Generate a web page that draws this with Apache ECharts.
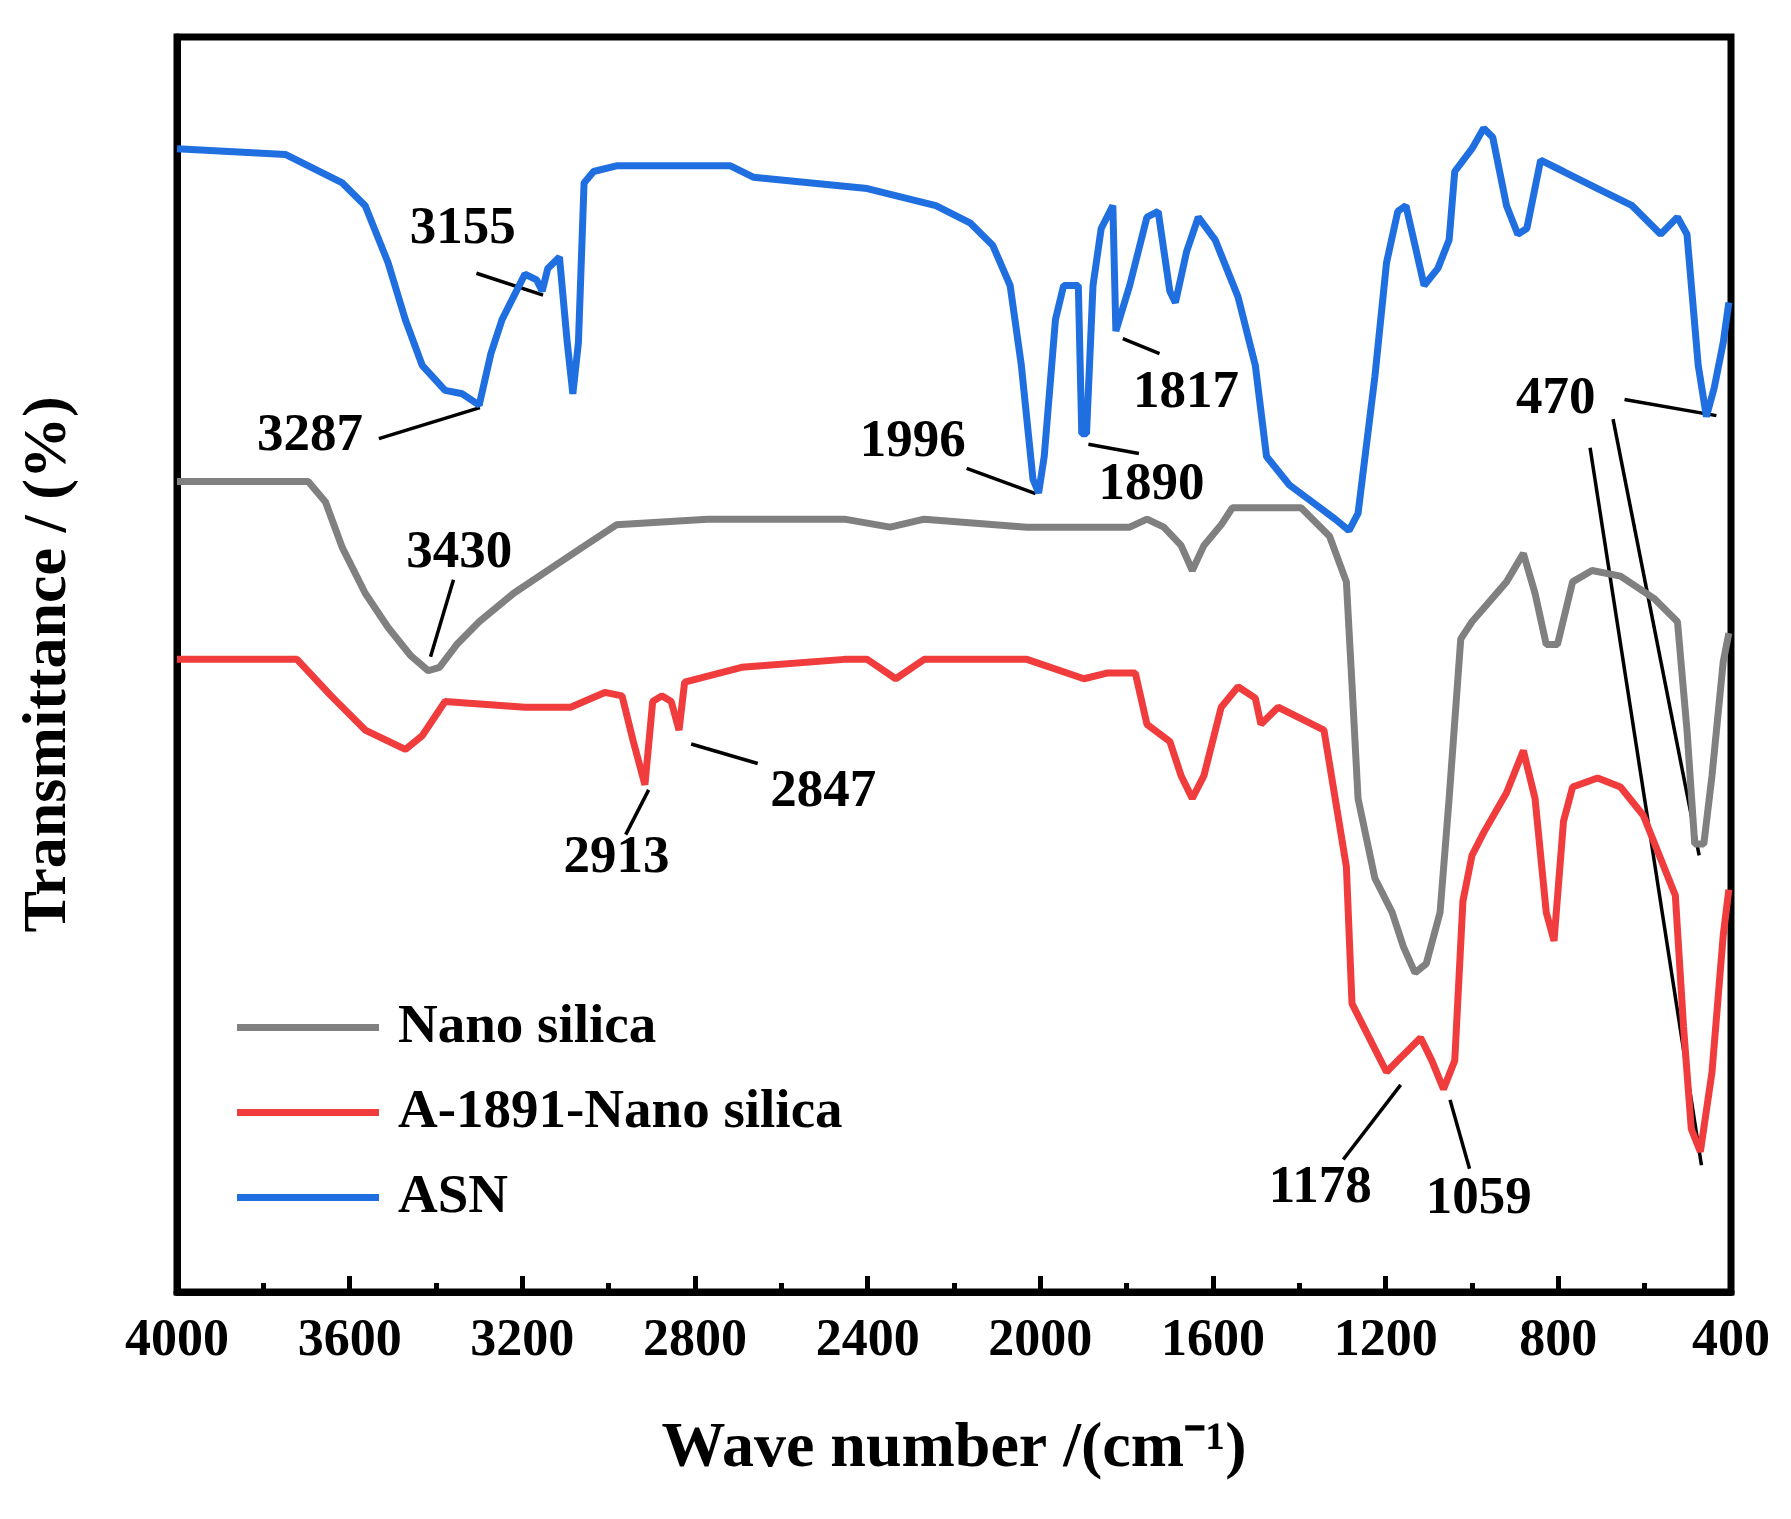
<!DOCTYPE html>
<html>
<head>
<meta charset="utf-8">
<script src="https://cdn.jsdelivr.net/npm/echarts@6/dist/echarts.min.js"></script>
<style>html,body{margin:0;padding:0;background:#fff}#chart{width:1791px;height:1519px}</style>
</head>
<body>
<div id="chart"></div>
<script>
// wave numbers (cm-1) and transmittance readings (arbitrary units, offset curves, larger = lower)
var asnX = [4000,3749,3617,3564,3511,3471,3432,3379,3339,3300,3273,3247,3194,3167,3154,3141,3114,3096,3083,3070,3057,3035,2982,2718,2665,2401,2242,2163,2110,2070,2044,2017,2004,1991,1965,1946,1912,1904,1893,1878,1859,1832,1825,1793,1753,1727,1700,1687,1661,1634,1595,1542,1502,1476,1423,1370,1317,1285,1264,1225,1198,1172,1153,1132,1111,1079,1053,1040,1000,973,952,920,894,873,841,788,709,629,563,524,502,476,457,439,418,405];
var asnY = [130,135,160,180,230,280,320,342,345,355,310,280,240,245,255,235,225,300,345,300,160,150,145,145,155,165,180,195,215,250,320,420,432,400,280,250,250,380,380,250,200,180,290,250,190,185,255,265,220,190,210,260,320,400,425,440,455,465,450,330,230,185,180,215,250,235,210,150,130,112,120,180,205,200,140,150,165,180,205,190,205,320,365,340,300,265];

var nanoX = [4000,3696,3656,3617,3564,3511,3458,3418,3392,3352,3300,3220,3141,3062,2982,2771,2454,2348,2269,2031,1793,1753,1714,1674,1648,1621,1581,1555,1396,1330,1291,1278,1264,1225,1185,1159,1132,1106,1074,1053,1026,1000,920,881,854,828,802,767,722,656,577,524,502,484,463,444,418,405];
var nanoY = [422,422,440,480,520,550,575,588,585,565,545,520,500,480,460,455,455,462,455,462,462,455,462,478,500,478,460,445,445,470,510,600,700,770,800,830,853,845,800,700,560,545,510,485,520,565,565,510,500,505,525,545,640,740,740,680,580,555];

var modX = [4000,3722,3643,3564,3471,3432,3379,3194,3088,3009,2969,2943,2916,2898,2877,2855,2837,2824,2692,2454,2401,2335,2269,2031,1899,1846,1780,1753,1700,1674,1648,1621,1581,1542,1502,1489,1449,1396,1343,1317,1291,1278,1238,1198,1159,1119,1093,1066,1040,1021,1000,973,920,881,854,828,810,788,767,709,656,603,529,510,492,471,444,418,405];
var modY = [578,578,610,640,657,645,615,620,620,607,610,650,688,615,610,615,640,598,585,578,578,595,578,578,595,590,590,635,650,680,700,680,620,602,612,635,620,630,640,700,760,880,910,940,925,910,930,955,930,790,750,730,695,658,700,800,825,720,690,682,690,715,785,900,990,1010,940,820,780];

var xTicks = [4000,3600,3200,2800,2400,2000,1600,1200,800,400];

// annotations: [text, textX, textY, [x1,y1,x2,y2], ...] in picture pixels
var notes = [
  ['3155',403,200,[[415,238,473,257]]],
  ['3287',270,380,[[330,382,418,355]]],
  ['1996',795,385,[[842,408,902,430]]],
  ['1890',1003,423,[[948,387,992,395]]],
  ['1817',1033,343,[[978,295,1010,308]]],
  ['470',1355,348,[[1415,348,1495,362],[1405,365,1480,745],[1385,390,1482,1015]]],
  ['3430',400,482,[[395,505,375,572]]],
  ['2913',537,748,[[545,727,565,688]]],
  ['2847',717,690,[[602,648,660,665]]],
  ['1178',1150,1035,[[1170,1010,1220,945]]],
  ['1059',1288,1045,[[1280,1018,1263,958]]]
];
var k = 1791 / 1560;

function pairs(xs, ys) {
  return xs.map(function (x, i) { return [x, ys[i]]; });
}

var graphics = [];
notes.forEach(function (n) {
  graphics.push({
    type: 'text', x: n[1] * k, y: n[2] * k,
    style: {text: n[0], font: 'bold 53px "Liberation Serif"', fill: '#000', textAlign: 'center', textVerticalAlign: 'middle'}
  });
  n[3].forEach(function (l) {
    graphics.push({
      type: 'line', shape: {x1: l[0] * k, y1: l[1] * k, x2: l[2] * k, y2: l[3] * k},
      style: {stroke: '#000', lineWidth: 3.5}
    });
  });
});

var myChart = echarts.init(document.getElementById('chart'));
var font = '"Liberation Serif", "Times New Roman", serif';

option = {
  backgroundColor: '#fff',
  animation: false,
  grid: {left: 177, right: 60, top: 37, bottom: 227, show: true, borderColor: '#000', borderWidth: 7},
  legend: {
    orient: 'vertical', left: 232, top: 995, itemWidth: 142, itemHeight: 7, itemGap: 30,
    icon: 'rect',
    textStyle: {fontFamily: font, fontWeight: 'bold', fontSize: 55, color: '#000', padding: [0, 0, 0, 14]},
    data: ['Nano silica', 'A-1891-Nano silica', 'ASN']
  },
  xAxis: {
    type: 'value', inverse: true, min: 400, max: 4000, interval: 400,
    name: 'Wave number /(cm\u207B\u00B9)', nameLocation: 'middle', nameGap: 125,
    nameTextStyle: {fontFamily: font, fontWeight: 'bold', fontSize: 64, color: '#000'},
    axisLine: {lineStyle: {color: '#000', width: 7}},
    axisTick: {inside: true, length: 16, lineStyle: {width: 5, color: '#000'}},
    minorTick: {show: true, splitNumber: 2, length: 9, lineStyle: {width: 5, color: '#000'}},
    splitLine: {show: false},
    axisLabel: {fontFamily: font, fontWeight: 'bold', fontSize: 52, color: '#000', margin: 24,
      formatter: function (v) { return xTicks.indexOf(v) >= 0 ? String(v) : ''; }}
  },
  yAxis: {
    type: 'value', inverse: true, min: 32, max: 1133,
    name: 'Transmittance / (%)', nameLocation: 'middle', nameGap: 97,
    nameTextStyle: {fontFamily: font, fontWeight: 'bold', fontSize: 62, color: '#000'},
    axisLine: {show: true, lineStyle: {color: '#000', width: 7}},
    axisTick: {show: false}, axisLabel: {show: false}, splitLine: {show: false}
  },
  series: [
    {name: 'Nano silica', type: 'line', data: pairs(nanoX, nanoY), showSymbol: false, z: 3,
      color: '#808080', lineStyle: {width: 7, color: '#808080'}},
    {name: 'A-1891-Nano silica', type: 'line', data: pairs(modX, modY), showSymbol: false, z: 4,
      color: '#f03c3c', lineStyle: {width: 7, color: '#f03c3c'}},
    {name: 'ASN', type: 'line', data: pairs(asnX, asnY), showSymbol: false, z: 2,
      color: '#1f6fe0', lineStyle: {width: 7, color: '#1f6fe0'}}
  ],
  graphic: graphics
};

myChart.setOption(option, true);
</script>
</body>
</html>
